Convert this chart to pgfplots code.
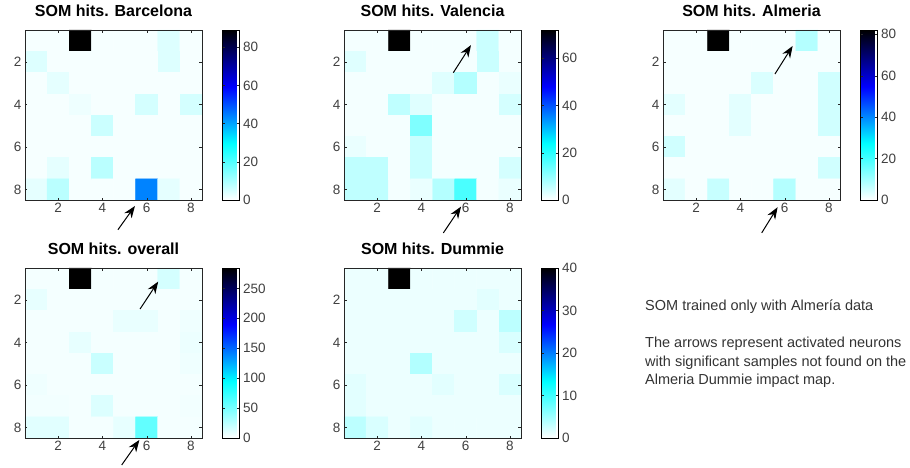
\documentclass[border=0pt]{standalone}
\usepackage{pgfplots}
\pgfplotsset{compat=1.18}
\usepackage{fontspec}
\setmainfont{Liberation Sans}
\usetikzlibrary{arrows.meta}
\pgfkeys{/pgf/number format/assume math mode=true}
\definecolor{tickgray}{RGB}{64,64,64}
\tikzset{arr/.style={-{Stealth[length=12pt,width=9pt]}, line width=1pt, black}}
\pgfplotsset{
  colormap={som}{rgb255(0cm)=(255,255,255); rgb255(1cm)=(0,255,255); rgb255(2cm)=(0,0,255); rgb255(3cm)=(0,0,0)},
  som/.style={
    width=177pt, height=170pt, scale only axis,
    xmin=0.5, xmax=8.5, ymin=0.5, ymax=8.5, y dir=reverse,
    xtick={2,4,6,8}, ytick={2,4,6,8},
    colormap name=som, colorbar, point meta min=0,
    clip=false, axis on top,
    axis line style={black!85, line width=0.5pt},
    major tick length=2.5pt,
    tick style={black!85},
    tick label style={font=\fontsize{13.5}{15}\selectfont, text=tickgray},
    title style={font=\bfseries\fontsize{16}{18}\selectfont, anchor=base, at={(0.5,1)}, yshift=8pt},
    colorbar style={width=17pt, at={(parent axis.north east)}, anchor=north west, xshift=12pt,
      tick label style={font=\fontsize{13.5}{15}\selectfont, text=tickgray},
      major tick length=2.5pt,
      /pgf/number format/assume math mode=true},
  },
}
\begin{document}
\begin{tikzpicture}
\useasboundingbox (0pt,0pt) rectangle (910pt,-467pt);
% Barcelona
\begin{axis}[som, at={(25pt,-30pt)}, anchor=north west, title={SOM hits. Barcelona}, point meta max=89,
  colorbar style={ytick={0,20,40,60,80}}]
\addplot[matrix plot*, mesh/cols=8, point meta=explicit] coordinates {
(1,1)[1] (2,1)[1] (3,1)[89] (4,1)[1] (5,1)[1] (6,1)[1] (7,1)[4] (8,1)[1]
(1,2)[4] (2,2)[1] (3,2)[1] (4,2)[1] (5,2)[1] (6,2)[1] (7,2)[4] (8,2)[1]
(1,3)[1] (2,3)[3] (3,3)[1] (4,3)[1] (5,3)[1] (6,3)[1] (7,3)[1] (8,3)[1]
(1,4)[1] (2,4)[1] (3,4)[2] (4,4)[1] (5,4)[1] (6,4)[5] (7,4)[1] (8,4)[5]
(1,5)[1] (2,5)[1] (3,5)[1] (4,5)[6] (5,5)[1] (6,5)[1] (7,5)[1] (8,5)[1]
(1,6)[1] (2,6)[1] (3,6)[1] (4,6)[1] (5,6)[1] (6,6)[1] (7,6)[1] (8,6)[1]
(1,7)[1] (2,7)[3] (3,7)[1] (4,7)[8] (5,7)[1] (6,7)[1] (7,7)[1] (8,7)[1]
(1,8)[3] (2,8)[8] (3,8)[1] (4,8)[1] (5,8)[1] (6,8)[44] (7,8)[3] (8,8)[1]
};
\draw[arr] (axis cs:4.7,9.9) -- (axis cs:5.47,8.78);
\end{axis}
% Valencia
\begin{axis}[som, at={(344pt,-30pt)}, anchor=north west, title={SOM hits. Valencia}, point meta max=72,
  colorbar style={ytick={0,20,40,60}}]
\addplot[matrix plot*, mesh/cols=8, point meta=explicit] coordinates {
(1,1)[1] (2,1)[1] (3,1)[72] (4,1)[1] (5,1)[1] (6,1)[1] (7,1)[5] (8,1)[1]
(1,2)[3] (2,2)[1] (3,2)[1] (4,2)[1] (5,2)[1] (6,2)[1] (7,2)[5] (8,2)[1]
(1,3)[1] (2,3)[1] (3,3)[1] (4,3)[1] (5,3)[3] (6,3)[7] (7,3)[1] (8,3)[2]
(1,4)[1] (2,4)[1] (3,4)[6] (4,4)[3] (5,4)[1] (6,4)[1] (7,4)[1] (8,4)[4]
(1,5)[1] (2,5)[1] (3,5)[1] (4,5)[12] (5,5)[1] (6,5)[1] (7,5)[1] (8,5)[1]
(1,6)[2] (2,6)[1] (3,6)[1] (4,6)[5] (5,6)[1] (6,6)[1] (7,6)[1] (8,6)[1]
(1,7)[6] (2,7)[6] (3,7)[1] (4,7)[5] (5,7)[1] (6,7)[1] (7,7)[1] (8,7)[4]
(1,8)[6] (2,8)[6] (3,8)[1] (4,8)[2] (5,8)[7] (6,8)[17] (7,8)[1] (8,8)[2]
};
\draw[arr] (axis cs:5.44,2.51) -- (axis cs:6.24,1.21);
\draw[arr] (axis cs:4.99,10.05) -- (axis cs:5.79,8.81);
\end{axis}
% Almeria
\begin{axis}[som, at={(663pt,-30pt)}, anchor=north west, title={SOM hits. Almeria}, point meta max=82,
  colorbar style={ytick={0,20,40,60,80}}]
\addplot[matrix plot*, mesh/cols=8, point meta=explicit] coordinates {
(1,1)[1] (2,1)[1] (3,1)[82] (4,1)[1] (5,1)[1] (6,1)[1] (7,1)[8] (8,1)[1]
(1,2)[1] (2,2)[1] (3,2)[1] (4,2)[1] (5,2)[1] (6,2)[1] (7,2)[1] (8,2)[1]
(1,3)[1] (2,3)[1] (3,3)[1] (4,3)[1] (5,3)[4] (6,3)[1] (7,3)[1] (8,3)[5]
(1,4)[3] (2,4)[1] (3,4)[1] (4,4)[3] (5,4)[1] (6,4)[1] (7,4)[1] (8,4)[5]
(1,5)[1] (2,5)[1] (3,5)[1] (4,5)[3] (5,5)[1] (6,5)[1] (7,5)[1] (8,5)[5]
(1,6)[5] (2,6)[1] (3,6)[1] (4,6)[1] (5,6)[1] (6,6)[1] (7,6)[1] (8,6)[1]
(1,7)[1] (2,7)[1] (3,7)[1] (4,7)[1] (5,7)[1] (6,7)[1] (7,7)[1] (8,7)[5]
(1,8)[3] (2,8)[1] (3,8)[6] (4,8)[1] (5,8)[1] (6,8)[8] (7,8)[1] (8,8)[1]
};
\draw[arr] (axis cs:5.56,2.57) -- (axis cs:6.36,1.25);
\draw[arr] (axis cs:4.96,10.05) -- (axis cs:5.68,8.84);
\end{axis}
% overall
\begin{axis}[som, at={(25pt,-268pt)}, anchor=north west, title={SOM hits. overall}, point meta max=284,
  colorbar style={ytick={0,50,100,150,200,250}}]
\addplot[matrix plot*, mesh/cols=8, point meta=explicit] coordinates {
(1,1)[4] (2,1)[4] (3,1)[284] (4,1)[4] (5,1)[4] (6,1)[4] (7,1)[16] (8,1)[4]
(1,2)[9] (2,2)[4] (3,2)[4] (4,2)[4] (5,2)[4] (6,2)[4] (7,2)[4] (8,2)[4]
(1,3)[4] (2,3)[4] (3,3)[4] (4,3)[4] (5,3)[8] (6,3)[8] (7,3)[4] (8,3)[6]
(1,4)[4] (2,4)[4] (3,4)[9] (4,4)[4] (5,4)[4] (6,4)[4] (7,4)[4] (8,4)[7]
(1,5)[4] (2,5)[4] (3,5)[4] (4,5)[20] (5,5)[4] (6,5)[4] (7,5)[4] (8,5)[6]
(1,6)[6] (2,6)[4] (3,6)[4] (4,6)[4] (5,6)[4] (6,6)[4] (7,6)[4] (8,6)[4]
(1,7)[5] (2,7)[5] (3,7)[4] (4,7)[13] (5,7)[4] (6,7)[4] (7,7)[4] (8,7)[5]
(1,8)[11] (2,8)[11] (3,8)[4] (4,8)[4] (5,8)[9] (6,8)[58] (7,8)[4] (8,8)[4]
};
\draw[arr] (axis cs:5.7,2.43) -- (axis cs:6.52,1.14);
\draw[arr] (axis cs:4.87,9.77) -- (axis cs:5.67,8.59);
\end{axis}
% Dummie
\begin{axis}[som, at={(344pt,-268pt)}, anchor=north west, title={SOM hits. Dummie}, point meta max=40,
  colorbar style={ytick={0,10,20,30,40}}]
\addplot[matrix plot*, mesh/cols=8, point meta=explicit] coordinates {
(1,1)[1] (2,1)[1] (3,1)[40] (4,1)[1] (5,1)[1] (6,1)[1] (7,1)[1] (8,1)[1]
(1,2)[1] (2,2)[1] (3,2)[1] (4,2)[1] (5,2)[1] (6,2)[1] (7,2)[1.5] (8,2)[1]
(1,3)[1] (2,3)[1] (3,3)[1] (4,3)[1] (5,3)[1] (6,3)[2.5] (7,3)[1] (8,3)[3.5]
(1,4)[1] (2,4)[1] (3,4)[1] (4,4)[1] (5,4)[1] (6,4)[1] (7,4)[1] (8,4)[2]
(1,5)[1] (2,5)[1] (3,5)[1] (4,5)[4] (5,5)[1] (6,5)[1] (7,5)[1] (8,5)[1]
(1,6)[1.5] (2,6)[1] (3,6)[1] (4,6)[1] (5,6)[1.5] (6,6)[1] (7,6)[1] (8,6)[2]
(1,7)[1.5] (2,7)[1] (3,7)[1] (4,7)[1] (5,7)[1] (6,7)[1] (7,7)[1] (8,7)[1]
(1,8)[3.5] (2,8)[2] (3,8)[1] (4,8)[1.5] (5,8)[1] (6,8)[1] (7,8)[1] (8,8)[1]
};
\end{axis}
% notes
\node[anchor=west, inner sep=0pt, font=\fontsize{14.5}{18.3}\selectfont, text=black!80] at (645pt,-306.7pt) {SOM trained only with Almería data};
\node[anchor=north west, inner sep=0pt, align=left, font=\fontsize{14.5}{18.6}\selectfont, text=black!80] at (645pt,-337pt) {The arrows represent activated neurons\\with significant samples not found on the\\Almeria Dummie impact map.};
\end{tikzpicture}
\end{document}
